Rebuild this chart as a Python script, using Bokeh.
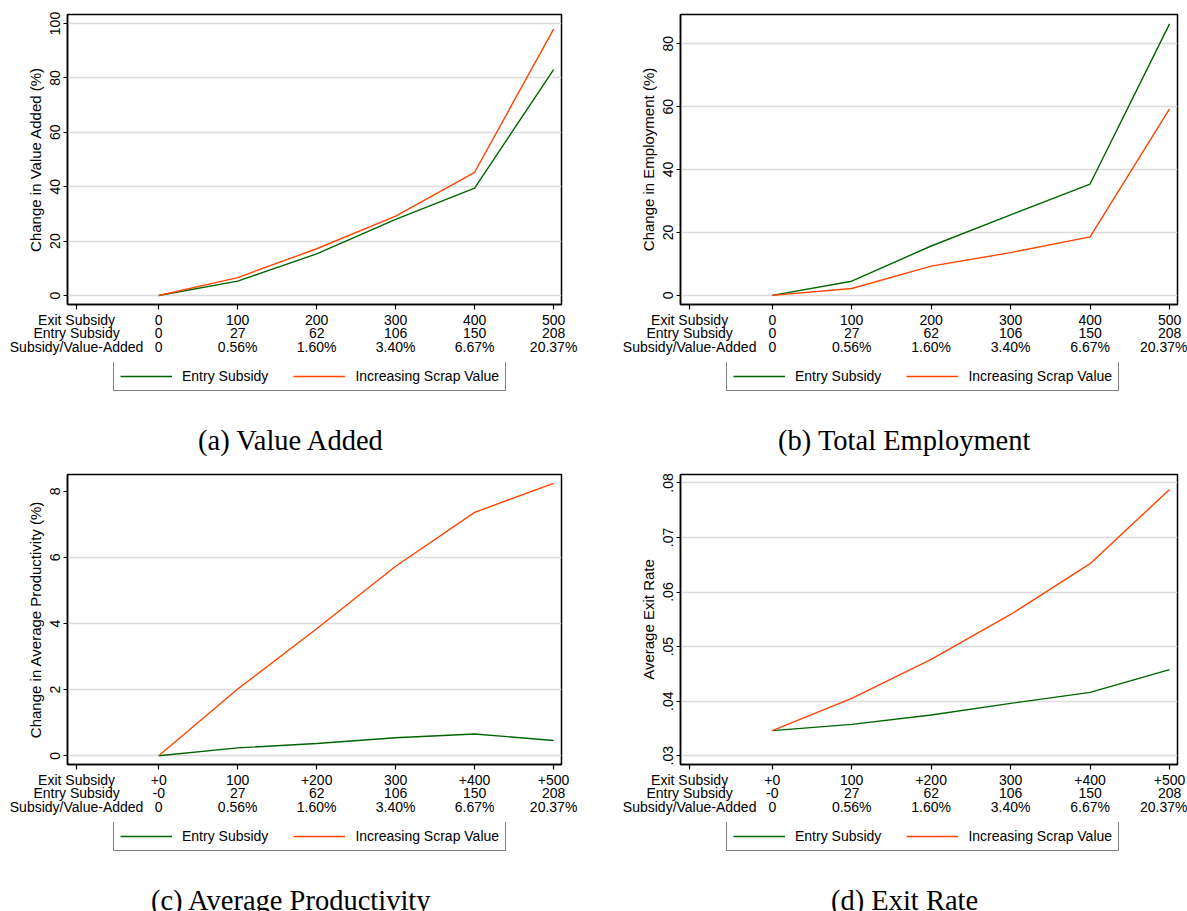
from bokeh.plotting import figure
from bokeh.models import (LinearAxis, FixedTicker, Range1d, Legend, LegendItem,
                          Label, Spacer, Grid)
from bokeh.layouts import row, column
from bokeh.embed import file_html
from bokeh.resources import INLINE

# ---------------- data ----------------
exit_subsidy = [0, 100, 200, 300, 400, 500]
header_pos = -104
row_headers = ["Exit Subsidy", "Entry Subsidy", "Subsidy/Value-Added"]
exit_labels_top = ["0", "100", "200", "300", "400", "500"]
exit_labels_bottom = ["+0", "100", "+200", "300", "+400", "+500"]
entry_labels_top = ["0", "27", "62", "106", "150", "208"]
entry_labels_bottom = ["-0", "27", "62", "106", "150", "208"]
ratio_labels = ["0", "0.56%", "1.60%", "3.40%", "6.67%", "20.37%"]
series_names = ["Entry Subsidy", "Increasing Scrap Value"]

va_entry = [0, 5.3, 15.3, 28.0, 39.5, 83.0]
va_scrap = [0, 6.6, 17.2, 29.2, 45.3, 97.9]
emp_entry = [0, 4.5, 15.7, 25.6, 35.4, 86.3]
emp_scrap = [0, 2.2, 9.3, 13.6, 18.6, 59.3]
prod_entry = [0, 0.24, 0.37, 0.545, 0.66, 0.46]
prod_scrap = [0, 2.02, 3.84, 5.73, 7.36, 8.24]
exit_entry = [0.0346, 0.03575, 0.03747, 0.0396, 0.04162, 0.04579]
exit_scrap = [0.0346, 0.0405, 0.04768, 0.05589, 0.0652, 0.0788]

va_ticks = [0, 20, 40, 60, 80, 100]
emp_ticks = [0, 20, 40, 60, 80]
prod_ticks = [0, 2, 4, 6, 8]
exit_ticks = [0.03, 0.04, 0.05, 0.06, 0.07, 0.08]
exit_tick_labels = [".03", ".04", ".05", ".06", ".07", ".08"]

GREEN = "#006400"
ORANGE = "#FF4500"
SANS = "Liberation Sans"
SERIF = "Liberation Serif"

X0, X1 = -115.5, 510.0
FRAME_H = 290
MAIN_H = 362
STANDOFFS = [2, -6, -5]


def panel(width, left, right, yr, yticks, ylabels, grid_ticks, ytitle,
          exit_labels, entry_labels, entry_vals, scrap_vals):
    p = figure(width=width, height=MAIN_H, x_range=Range1d(X0, X1),
               y_range=Range1d(*yr), x_axis_type=None, y_axis_type=None,
               output_backend="svg", toolbar_location=None,
               min_border_left=left, min_border_right=right,
               min_border_top=14, min_border_bottom=MAIN_H - 14 - FRAME_H)
    p.outline_line_color = "black"
    p.outline_line_width = 1.5
    p.background_fill_color = "white"
    p.border_fill_color = "white"

    p.add_layout(Grid(dimension=1, ticker=FixedTicker(ticks=grid_ticks),
                      grid_line_color="#dcdcdc", grid_line_width=1.3))

    yax = LinearAxis(ticker=FixedTicker(ticks=yticks), axis_label=ytitle,
                     major_label_orientation="vertical")
    if ylabels is not None:
        yax.major_label_overrides = {t: l for t, l in zip(yticks, ylabels)}
    yax.axis_line_color = "black"
    yax.axis_line_width = 1.5
    yax.major_tick_line_color = "black"
    yax.major_tick_line_width = 1.2
    yax.major_tick_out = 4
    yax.major_tick_in = 0
    yax.minor_tick_line_color = None
    yax.major_label_text_font = SANS
    yax.major_label_text_font_size = "14px"
    yax.major_label_text_color = "black"
    yax.major_label_standoff = 3
    yax.axis_label_text_font = SANS
    yax.axis_label_text_font_size = "15px"
    yax.axis_label_text_font_style = "normal"
    yax.axis_label_text_color = "black"
    yax.axis_label_standoff = 4
    p.add_layout(yax, "left")

    rows = [exit_labels, entry_labels, ratio_labels]
    for i, labs in enumerate(rows):
        ax = LinearAxis(ticker=FixedTicker(ticks=[header_pos] + exit_subsidy))
        ov = {header_pos: row_headers[i]}
        ov.update({t: l for t, l in zip(exit_subsidy, labs)})
        ax.major_label_overrides = ov
        ax.minor_tick_line_color = None
        ax.major_label_text_font = SANS
        ax.major_label_text_font_size = "14px"
        ax.major_label_text_color = "black"
        ax.major_label_standoff = STANDOFFS[i]
        if i == 0:
            ax.axis_line_color = "black"
            ax.axis_line_width = 1.5
            ax.major_tick_line_color = "black"
            ax.major_tick_line_width = 1.2
            ax.major_tick_out = 5
            ax.major_tick_in = 0
        else:
            ax.axis_line_color = None
            ax.major_tick_line_color = None
            ax.major_tick_out = 0
            ax.major_tick_in = 0
        p.add_layout(ax, "below")

    p.line(exit_subsidy, entry_vals, line_color=GREEN, line_width=1.4)
    p.line(exit_subsidy, scrap_vals, line_color=ORANGE, line_width=1.4)
    return p


def legend_fig(width, height, left, right, entry_vals, scrap_vals, caption):
    frame_w = width - left - right
    q = figure(width=width, height=height, x_range=Range1d(0, frame_w),
               y_range=Range1d(0, height), x_axis_type=None, y_axis_type=None,
               output_backend="svg", toolbar_location=None,
               min_border_left=left, min_border_right=right,
               min_border_top=0, min_border_bottom=0, outline_line_color=None)
    q.grid.visible = False
    r1 = q.line(exit_subsidy, entry_vals, line_color=GREEN, line_width=1.4,
                visible=False)
    r2 = q.line(exit_subsidy, scrap_vals, line_color=ORANGE, line_width=1.4,
                visible=False)
    legend = Legend(items=[LegendItem(label=series_names[0], renderers=[r1]),
                           LegendItem(label=series_names[1], renderers=[r2])],
                    orientation="horizontal",
                    location=(46, height - (391 - MAIN_H)))
    legend.label_text_font = SANS
    legend.label_text_font_size = "14px"
    legend.label_text_color = "black"
    legend.glyph_width = 52
    legend.glyph_height = 14
    legend.label_standoff = 10
    legend.spacing = 25
    legend.padding = 6
    legend.margin = 0
    legend.border_line_color = "black"
    legend.border_line_width = 1
    legend.background_fill_color = "white"
    legend.background_fill_alpha = 1
    legend.inactive_fill_alpha = 0
    q.add_layout(legend)
    q.add_layout(Label(x=224, y=height - (440 - MAIN_H), text=caption,
                       text_align="center", text_baseline="middle",
                       text_font=SERIF, text_font_size="28.5px",
                       text_color="black"))
    return q


pa = panel(600, 67, 39, (-3.3, 103.3), va_ticks, None, va_ticks,
           "Change in Value Added (%)", exit_labels_top, entry_labels_top,
           va_entry, va_scrap)
la = legend_fig(600, 460 - MAIN_H, 67, 39, va_entry, va_scrap, "(a) Value Added")

pb = panel(565, 58, 10, (-2.9, 89.3), emp_ticks, None, emp_ticks,
           "Change in Employment (%)", exit_labels_top, entry_labels_top,
           emp_entry, emp_scrap)
lb = legend_fig(565, 460 - MAIN_H, 58, 10, emp_entry, emp_scrap,
                "(b) Total Employment")

pc = panel(600, 67, 39, (-0.264, 8.506), prod_ticks, None, [0, 2, 4, 6],
           "Change in Average Productivity (%)", exit_labels_bottom,
           entry_labels_bottom, prod_entry, prod_scrap)
lc = legend_fig(600, 451 - MAIN_H, 67, 39, prod_entry, prod_scrap,
                "(c) Average Productivity")

pd_ = panel(565, 58, 10, (0.0284, 0.08154), exit_ticks, exit_tick_labels,
            exit_ticks, "Average Exit Rate", exit_labels_bottom,
            entry_labels_bottom, exit_entry, exit_scrap)
ld = legend_fig(565, 451 - MAIN_H, 58, 10, exit_entry, exit_scrap,
                "(d) Exit Rate")

layout = column(
    row(column(pa, la), Spacer(width=22, height=460), column(pb, lb)),
    row(column(pc, lc), Spacer(width=22, height=451), column(pd_, ld)))

open("out.html", "w").write(file_html(layout, INLINE))
